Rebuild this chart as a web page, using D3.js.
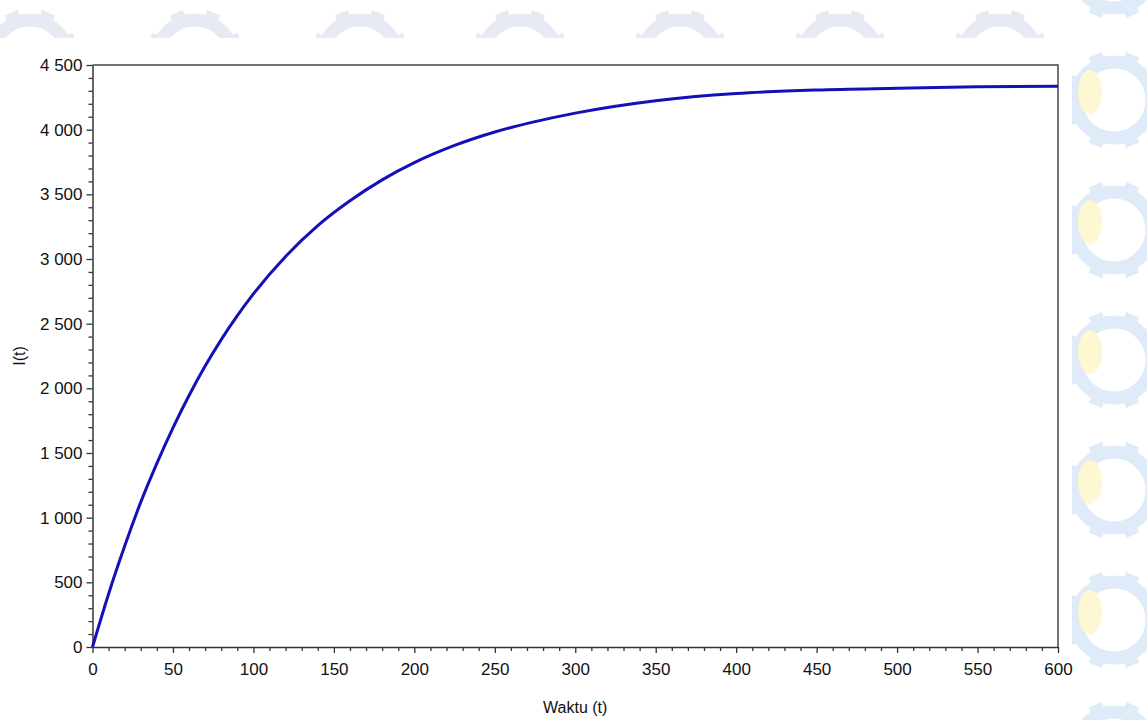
<!DOCTYPE html>
<html>
<head>
<meta charset="utf-8">
<script src="https://cdn.jsdelivr.net/npm/d3@7"></script>
<style>
  html, body { margin: 0; padding: 0; background: #fff; }
  svg { display: block; }
  text { font-family: "Liberation Sans", Arial, sans-serif; }
</style>
</head>
<body>
<svg id="chart" width="1147" height="720"></svg>
<script>
// ---- data ----
const timeValues = [0, 10, 20, 30, 40, 50, 60, 70, 80, 90, 100, 120, 140, 160, 180, 200, 225, 250, 275, 300, 350, 400, 450, 500, 550, 600];
const infectedValues = [0, 410, 780, 1120, 1420, 1695, 1945, 2172, 2377, 2562, 2730, 3020, 3258, 3450, 3612, 3745, 3878, 3982, 4062, 4128, 4224, 4280, 4307, 4320, 4331, 4336];
const xTickValues = [0, 50, 100, 150, 200, 250, 300, 350, 400, 450, 500, 550, 600];
const yTickValues = [0, 500, 1000, 1500, 2000, 2500, 3000, 3500, 4000, 4500];
const xLabel = "Waktu (t)";
const yLabel = "I(t)";

const svg = d3.select("#chart");
const W = 1147, H = 720;
const m = { left: 92.5, right: 1058, top: 65, bottom: 647 };

// ---- faint watermark (decorative) ----
const wm = svg.append("g").attr("class", "watermark");
const defs = svg.append("defs");
defs.append("clipPath").attr("id", "wmclip")
  .append("path")
  .attr("d", `M0,0H${W}V${H}H1072V38H0Z`);
wm.attr("clip-path", "url(#wmclip)");
function gear(g, cx, cy, r, col) {
  g.append("circle").attr("cx", cx).attr("cy", cy).attr("r", r - 8)
    .attr("fill", "none").attr("stroke", col).attr("stroke-width", 13);
  for (let i = 0; i < 8; i++) {
    const a = i * 45 + 22.5;
    g.append("rect").attr("x", cx - 7).attr("y", cy - r - 3).attr("width", 14).attr("height", 10)
      .attr("fill", col).attr("transform", `rotate(${a},${cx},${cy})`);
  }
}
const gearCol = "#dfebf8";
[-30, 100, 230, 360, 490, 620, 750].forEach(cy => {
  gear(wm, 1114, cy, 46, gearCol);
  wm.append("ellipse").attr("cx", 1090).attr("cy", cy - 8).attr("rx", 12).attr("ry", 22)
    .attr("fill", "#fdf7d2");
});
[30, 195, 360, 520, 680, 840, 1000].forEach(cx => {
  gear(wm, cx, 58, 46, "#e6ebf3");
});

// ---- scales ----
const x = d3.scaleLinear().domain([0, 600]).range([m.left, m.right]);
const y = d3.scaleLinear().domain([0, 4500]).range([m.bottom, m.top]);

const fmt = v => d3.format(",")(v).replace(/,/g, " ");

// plot background
svg.append("rect").attr("x", m.left).attr("y", m.top)
  .attr("width", m.right - m.left).attr("height", m.bottom - m.top)
  .attr("fill", "#fff");

// ---- axes ----
const axisCol = "#333";
const xMinor = d3.range(0, 601, 10).filter(v => v % 50 !== 0);
const yMinor = d3.range(0, 4501, 100).filter(v => v % 500 !== 0);

const gx = svg.append("g").attr("transform", `translate(0,${m.bottom})`);
gx.call(d3.axisBottom(x).tickValues(xMinor).tickSize(4).tickFormat(""));
gx.call(g => g.selectAll("path").remove());
const gxMaj = svg.append("g").attr("transform", `translate(0,${m.bottom})`)
  .call(d3.axisBottom(x).tickValues(xTickValues).tickSize(6).tickSizeOuter(0).tickPadding(10).tickFormat(d => d));
gxMaj.attr("font-size", 17);
gxMaj.selectAll("text").attr("fill", "#111");

const gy = svg.append("g").attr("transform", `translate(${m.left},0)`);
gy.call(d3.axisLeft(y).tickValues(yMinor).tickSize(4).tickFormat(""));
gy.call(g => g.selectAll("path").remove());
const gyMaj = svg.append("g").attr("transform", `translate(${m.left},0)`)
  .call(d3.axisLeft(y).tickValues(yTickValues).tickSize(6).tickSizeOuter(0).tickPadding(4).tickFormat(fmt));
gyMaj.attr("font-size", 17);
gyMaj.selectAll("text").attr("fill", "#111");

svg.selectAll(".tick line").attr("stroke", axisCol).attr("stroke-width", 1.3);
svg.selectAll(".domain").attr("stroke", axisCol).attr("stroke-width", 1.5);

// frame top and right
svg.append("path")
  .attr("d", `M${m.left},${m.top}H${m.right}V${m.bottom}`)
  .attr("fill", "none").attr("stroke", "#444").attr("stroke-width", 1.5);

// ---- line ----
const line = d3.line()
  .x((d, i) => x(timeValues[i]))
  .y(d => y(d))
  .curve(d3.curveMonotoneX);
svg.append("path").datum(infectedValues)
  .attr("d", line)
  .attr("fill", "none")
  .attr("stroke", "#1410b8")
  .attr("stroke-width", 3);

// ---- labels ----
svg.append("text").attr("x", (m.left + m.right) / 2).attr("y", 713)
  .attr("text-anchor", "middle").attr("font-size", 16).attr("fill", "#111").text(xLabel);
svg.append("text").attr("transform", `translate(25,${(m.top + m.bottom) / 2}) rotate(-90)`)
  .attr("text-anchor", "middle").attr("font-size", 16).attr("fill", "#111").text(yLabel);
</script>
</body>
</html>
